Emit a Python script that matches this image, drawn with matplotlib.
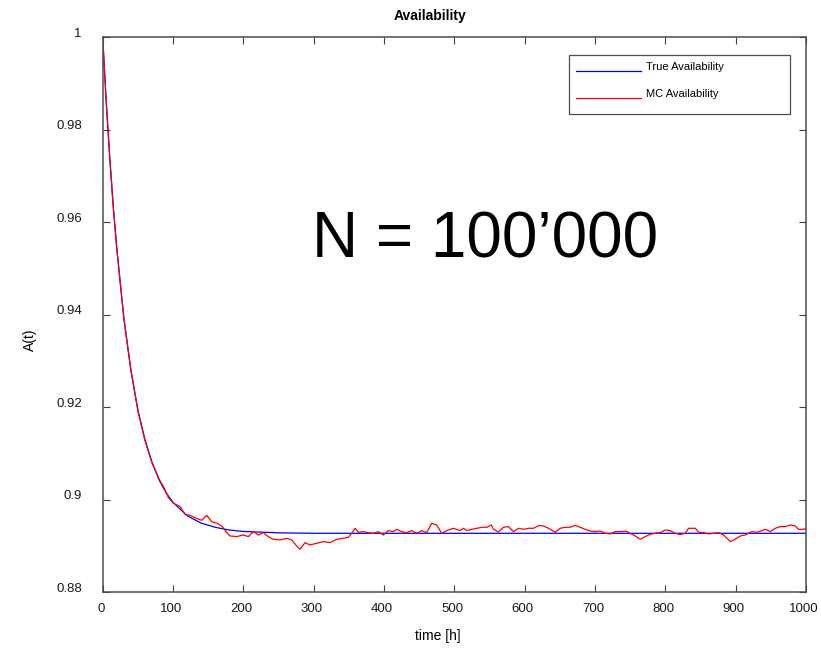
import matplotlib
matplotlib.use("Agg")
import matplotlib.pyplot as plt
import matplotlib.transforms as mtransforms
from matplotlib.lines import Line2D
from matplotlib.patches import Rectangle

plt.rcParams['font.family'] = ['Liberation Sans', 'DejaVu Sans']

# true availability
true_t = [0, 5, 10, 15, 20, 30, 40, 50, 60, 70, 80, 90, 100, 120, 140, 160,
          180, 200, 250, 300, 400, 500, 600, 700, 800, 900, 1000]
true_a = [1.0, 0.9861, 0.9740, 0.9634, 0.9543, 0.9394, 0.9280, 0.9194, 0.9130,
          0.9081, 0.9043, 0.9015, 0.8994, 0.8965, 0.8949, 0.8940, 0.8934, 0.8931,
          0.8928, 0.8927, 0.8927, 0.8927, 0.8927, 0.8927, 0.8927, 0.8927, 0.8927]

# monte carlo estimate
mc_t = [0, 5, 10, 15, 20, 30, 40, 50, 60, 70, 81.5, 86.2, 93.4, 100.5, 110, 117,
        124, 133.6, 140.8, 147.9, 155, 162, 169.2, 176,
        181.0, 190.5, 200.0, 207.1, 214.2, 221.3, 228.4, 235.5, 242.6, 252.1,
        261.6, 268.7, 275.8, 280.5, 287.7, 294.8, 304.2, 313.7, 323.2, 332.7,
        342.2, 349.3, 354.0, 358.8, 363.5, 370.6, 377.7, 384.8, 391.9, 399.0,
        406.2, 413.3, 418.0, 425.1, 432.2, 439.3, 446.4, 453.6, 460.7, 467.8,
        474.9, 482.0, 489.1, 498.6, 508.1,
        513.0, 517.8, 524.9, 532.0, 539.1, 546.2, 552.4, 555.7, 562.8, 569.9,
        577.0, 584.1, 591.3, 598.4, 605.5, 612.6, 619.7, 626.8, 633.9, 643.4,
        650.5, 657.6, 664.7, 671.8, 679.0, 686.1, 693.2, 700.3, 707.4, 714.5,
        721.6, 728.7, 735.8, 745.3, 750.0, 757.2, 764.3, 771.4, 778.5, 785.6,
        792.7, 799.8, 806.9, 814.0, 821.1, 828.3, 833.0,
        842.5, 847.3, 854.4, 861.5, 868.6, 875.7, 882.8, 887.5, 892.3, 899.4,
        906.5, 913.6, 918.4, 923.1, 930.2, 937.3, 942.1, 949.2, 956.3, 963.4,
        970.5, 977.6, 984.7, 989.5, 996.6, 1000]
mc_a = [1.0, 0.9860, 0.9742, 0.9633, 0.9545, 0.9392, 0.9282, 0.9192, 0.9128,
        0.9080, 0.9040, 0.9029, 0.9004, 0.8992, 0.8985, 0.8968, 0.8966, 0.8959,
        0.8955, 0.8966, 0.8952, 0.8949, 0.8943, 0.8929,
        0.89212, 0.89198, 0.89234, 0.89198, 0.89306, 0.89234, 0.89284, 0.89198,
        0.89140, 0.89126, 0.89162, 0.89126, 0.88996, 0.88924, 0.89068, 0.89018,
        0.89054, 0.89090, 0.89068, 0.89140, 0.89162, 0.89184, 0.89270, 0.89378,
        0.89292, 0.89306, 0.89284, 0.89270, 0.89306, 0.89234, 0.89328, 0.89306,
        0.89356, 0.89306, 0.89284, 0.89328, 0.89270, 0.89328, 0.89284, 0.89486,
        0.89450, 0.89270, 0.89328, 0.89378, 0.89328,
        0.89378, 0.89328, 0.89356, 0.89378, 0.89400, 0.89400, 0.89450, 0.89356,
        0.89299, 0.89400, 0.89414, 0.89306, 0.89378, 0.89356, 0.89378, 0.89378,
        0.89436, 0.89428, 0.89378, 0.89292, 0.89378, 0.89400, 0.89400, 0.89443,
        0.89400, 0.89356, 0.89320, 0.89306, 0.89320, 0.89270, 0.89256, 0.89306,
        0.89306, 0.89313, 0.89270, 0.89212, 0.89140, 0.89198, 0.89248, 0.89270,
        0.89284, 0.89342, 0.89328, 0.89270, 0.89241, 0.89270, 0.89378,
        0.89378, 0.89292, 0.89284, 0.89256, 0.89270, 0.89284, 0.89234, 0.89162,
        0.89090, 0.89140, 0.89212, 0.89234, 0.89270, 0.89306, 0.89292, 0.89328,
        0.89356, 0.89306, 0.89378, 0.89414, 0.89414, 0.89450, 0.89428, 0.89356,
        0.89356, 0.89378]

x_ticks = [0, 100, 200, 300, 400, 500, 600, 700, 800, 900, 1000]
y_ticks = [0.88, 0.9, 0.92, 0.94, 0.96, 0.98, 1]
y_labels = ['0.88', '0.9', '0.92', '0.94', '0.96', '0.98', '1']

W, H = 821, 650
fig = plt.figure(figsize=(W / 100, H / 100), dpi=100)
ax = fig.add_axes([102.7 / W, 1 - 592 / H, (806 - 102.7) / W, (592 - 37.3) / H])

ax.plot(true_t, true_a, color='#0000ff', lw=0.9)
ax.plot(mc_t, mc_a, color='#ff0000', lw=0.9)

ax.set_xlim(0, 1000)
ax.set_ylim(0.88, 1.0)
ax.set_xticks(x_ticks)
ax.set_xticklabels([str(v) for v in x_ticks])
ax.set_yticks(y_ticks)
ax.set_yticklabels(y_labels)
ax.tick_params(direction='in', top=True, right=True, length=5, width=0.8,
               color='0.25', labelsize=9.5, labelcolor='0.1')
ax.tick_params(axis='y', pad=15)
ax.tick_params(axis='x', pad=8)
for s in ax.spines.values():
    s.set_color('0.3')
    s.set_linewidth(1.1)

# MATLAB-ish label offsets
off_y = mtransforms.ScaledTranslation(0, 5 / 100, fig.dpi_scale_trans)
for lab in ax.get_yticklabels():
    lab.set_transform(lab.get_transform() + off_y)
off_x = mtransforms.ScaledTranslation(-2 / 100, 0, fig.dpi_scale_trans)
for lab in ax.get_xticklabels():
    lab.set_transform(lab.get_transform() + off_x)

fig.text(430 / W, 1 - 16 / H, 'Availability', ha='center', va='center',
         fontsize=10, fontweight='bold')
fig.text(438 / W, 1 - 636 / H, 'time [h]', ha='center', va='center', fontsize=10)
fig.text(30 / W, 1 - 340 / H, 'A(t)', ha='center', va='center', fontsize=10,
         rotation=90)

fig.text(485 / W, 1 - 241 / H, 'N = 100\u2019000', ha='center', va='center',
         fontsize=46)

# legend box drawn by hand to get MATLAB spacing
fig.add_artist(Rectangle((569 / W, 1 - 114 / H), (790 - 569) / W, (114 - 55) / H,
                         transform=fig.transFigure, facecolor='white',
                         edgecolor='0.3', lw=0.9))
for yy, col, lab in [(71, '#0000ff', 'True Availability'),
                     (98, '#ff0000', 'MC Availability')]:
    fig.add_artist(Line2D([576 / W, 641 / W], [1 - yy / H, 1 - yy / H],
                          transform=fig.transFigure, color=col, lw=0.9))
    fig.text(646 / W, 1 - (yy - 4) / H, lab, ha='left', va='center', fontsize=8)

fig.savefig('out.png', dpi=100)
